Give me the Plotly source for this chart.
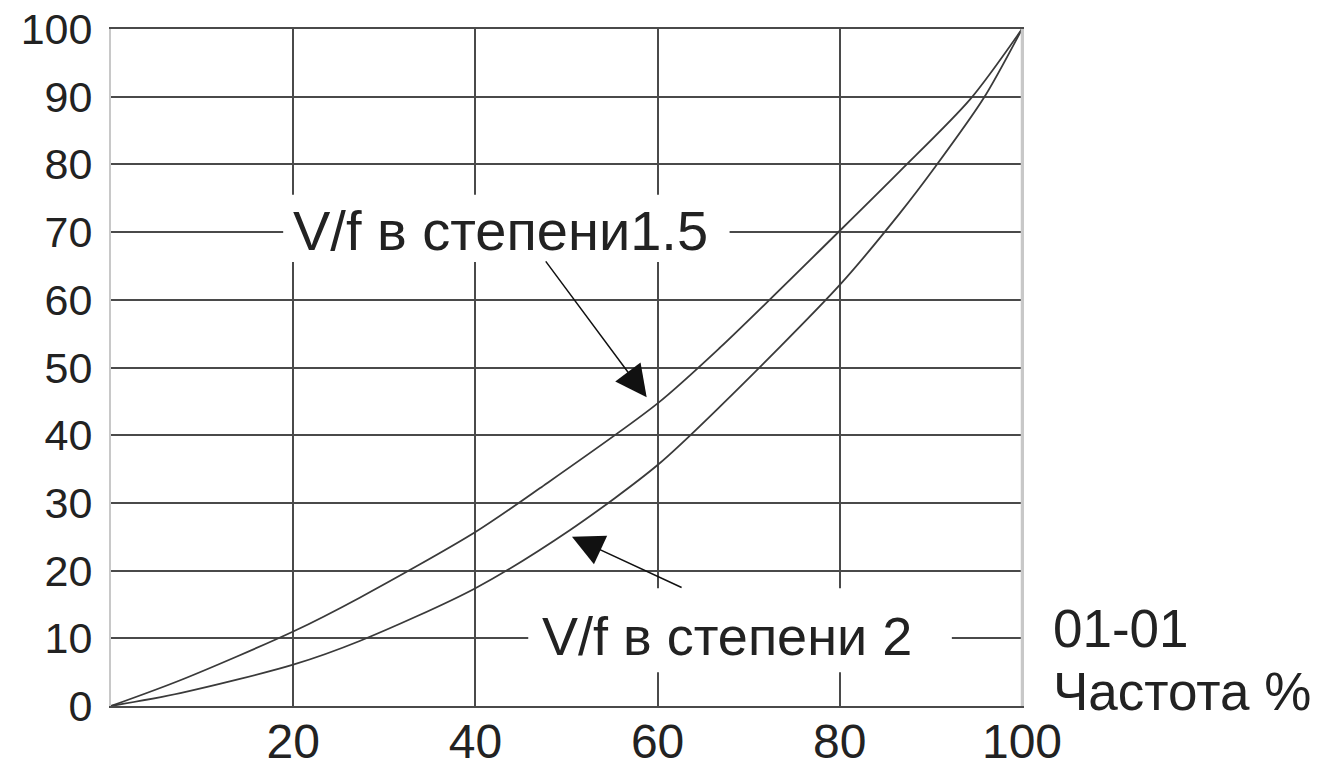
import plotly.graph_objects as go

# ---- data ----
freq_15 = [0, 7.6, 20, 27.3, 40, 47.1, 60, 66.9, 80, 86.6, 94.3, 100]
volt_15 = [0, 3.8, 11.0, 16.0, 25.7, 32.2, 44.7, 53.0, 70.2, 79.0, 89.6, 100]

freq_2 = [0, 7.6, 20, 27.3, 40, 50.4, 60, 66.9, 80, 86.6, 90.4, 95.8, 100]
volt_2 = [0, 1.9, 6.1, 9.6, 17.4, 26.0, 35.6, 44.3, 62.2, 72.8, 79.5, 89.8, 100]

x_ticks = [20, 40, 60, 80, 100]
y_ticks = [0, 10, 20, 30, 40, 50, 60, 70, 80, 90, 100]

label_15 = "V/f в степени1.5"
label_2 = "V/f в степени 2"
param_code = "01-01"
x_title = "Частота %"

FONT = "Liberation Sans, Arial, sans-serif"
GRID = "#4a4a4a"
CURVE = "#3a3a3a"
TXT = "#222"

fig = go.Figure()
fig.add_trace(go.Scatter(x=freq_15, y=volt_15, mode="lines",
                         line=dict(color=CURVE, width=1.8, shape="spline", smoothing=0.8),
                         showlegend=False, hoverinfo="skip"))
fig.add_trace(go.Scatter(x=freq_2, y=volt_2, mode="lines",
                         line=dict(color=CURVE, width=1.8, shape="spline", smoothing=0.8),
                         showlegend=False, hoverinfo="skip"))

# white boxes interrupting the grid behind the labels
fig.add_shape(type="rect", xref="x", yref="y", x0=18.9, x1=67.9, y0=65.6, y1=75.5,
              fillcolor="white", line=dict(width=0), layer="above")
fig.add_shape(type="rect", xref="x", yref="y", x0=45.8, x1=92.3, y0=5.0, y1=17.4,
              fillcolor="white", line=dict(width=0), layer="above")
# light right border over the 100 grid line
fig.add_shape(type="line", xref="x", yref="paper", x0=100, x1=100, y0=0, y1=1,
              line=dict(color="#c8c8c8", width=2.5), layer="above")

ann = []
ann.append(dict(x=42.8, y=70.2, xref="x", yref="y", text=label_15, showarrow=False,
                font=dict(family=FONT, size=56, color=TXT)))
ann.append(dict(x=67.6, y=10.3, xref="x", yref="y", text=label_2, showarrow=False,
                font=dict(family=FONT, size=54, color=TXT)))
ann.append(dict(x=1.032, y=0.115, xref="paper", yref="paper", text=param_code, showarrow=False,
                xanchor="left", yanchor="middle", font=dict(family=FONT, size=53, color=TXT)))
ann.append(dict(x=1.032, y=0.022, xref="paper", yref="paper", text=x_title, showarrow=False,
                xanchor="left", yanchor="middle", font=dict(family=FONT, size=53, color=TXT)))
# arrows
ann.append(dict(x=58.8, y=45.6, ax=47.6, ay=65.9, xref="x", yref="y", axref="x", ayref="y", text="",
                showarrow=True, arrowhead=2, arrowsize=4.2, arrowwidth=1.5, arrowcolor="#111"))
ann.append(dict(x=50.6, y=25.0, ax=62.8, ay=17.4, xref="x", yref="y", axref="x", ayref="y", text="",
                showarrow=True, arrowhead=2, arrowsize=4.2, arrowwidth=1.5, arrowcolor="#111"))

fig.update_layout(
    width=1329, height=768,
    margin=dict(l=111, r=307, t=29, b=62, autoexpand=False),
    paper_bgcolor="white", plot_bgcolor="white",
    annotations=ann,
    xaxis=dict(range=[0, 100], tickvals=x_ticks, ticktext=[str(v) for v in x_ticks],
               showgrid=True, gridcolor=GRID, gridwidth=1.6, zeroline=False,
               showline=True, linecolor=GRID, linewidth=2, mirror=True,
               ticks="", ticklen=0, ticklabelstandoff=-8, automargin=False,
               ticklabeloverflow="allow",
               tickfont=dict(family=FONT, size=48, color=TXT), fixedrange=True),
    yaxis=dict(range=[0, 100], tickvals=y_ticks, ticktext=[str(v) for v in y_ticks],
               showgrid=True, gridcolor=GRID, gridwidth=1.6, zeroline=False,
               showline=True, linecolor="#c8c8c8", linewidth=2, mirror=True,
               ticks="", ticklen=0, ticklabelstandoff=8, automargin=False,
               ticklabeloverflow="allow",
               tickfont=dict(family=FONT, size=43, color=TXT), fixedrange=True),
)

fig.write_html("out.html", config={"displayModeBar": False},
               post_script="document.body.style.margin='0';document.body.style.overflow='hidden';")
